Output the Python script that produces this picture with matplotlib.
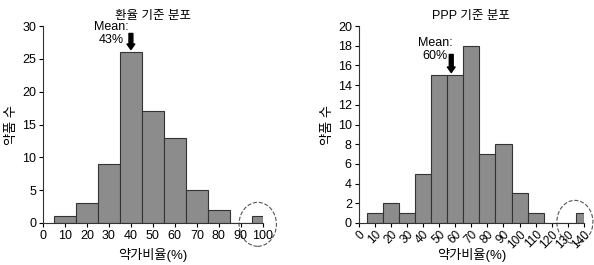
import numpy as np
import matplotlib
matplotlib.use("Agg")
import matplotlib.pyplot as plt
from matplotlib.patches import Ellipse

plt.rcParams['font.family'] = ['Liberation Sans', 'Noto Sans CJK KR']
plt.rcParams['font.size'] = 8

# exchange-rate based distribution
fx_bins = [10, 20, 30, 40, 50, 60, 70, 80, 90, 100]
fx_counts = [1, 3, 9, 26, 17, 13, 5, 2, 0, 1]
fx_mean = 43

# PPP based distribution
ppp_bins = [10, 20, 30, 40, 50, 60, 70, 80, 90, 100, 110, 120, 130, 140]
ppp_counts = [1, 2, 1, 5, 15, 15, 18, 7, 8, 3, 1, 0, 0, 1]
ppp_mean = 60

BAR_FC = '#8c8c8c'
BAR_EC = '#333333'


def draw_hist(ax, bins, counts, xmax, ymax, ystep, title):
    bins = np.array(bins, dtype=float)
    left = bins - 5
    width = np.minimum(10, xmax - left)
    ax.bar(left, counts, width=width, align='edge', color=BAR_FC,
           edgecolor=BAR_EC, linewidth=0.8)
    ax.set_xlim(0, xmax)
    ax.set_ylim(0, ymax)
    ax.set_xticks(np.arange(0, xmax + 1, 10))
    ax.set_yticks(np.arange(0, ymax + 1, ystep))
    for s in ['top', 'right']:
        ax.spines[s].set_visible(False)
    ax.spines['left'].set_color('#333333')
    ax.spines['bottom'].set_color('#333333')
    ax.tick_params(length=3, width=0.8, pad=2, labelsize=9)
    ax.set_title(title, fontsize=9, pad=5)
    ax.set_ylabel('약품 수', fontsize=9.5, labelpad=3)
    ax.set_xlabel('약가비율(%)', fontsize=9.5)
    ax.xaxis.set_label_coords(0.5, -0.125)


fig = plt.figure(figsize=(5.94, 2.65), dpi=100)
ax1 = fig.add_axes([0.0724, 0.1585, 0.370, 0.743])
ax2 = fig.add_axes([0.604, 0.1585, 0.379, 0.743])

draw_hist(ax1, fx_bins, fx_counts, 100, 30, 5, '환율 기준 분포')
draw_hist(ax2, ppp_bins, ppp_counts, 140, 20, 2, 'PPP 기준 분포')

ax2.tick_params(axis='x', pad=1, labelsize=8.5)
for lab in ax2.get_xticklabels():
    lab.set_rotation(45)
    lab.set_ha('right')
    lab.set_va('top')
    lab.set_rotation_mode('anchor')

# mean arrows
arrow = dict(arrowstyle='simple,head_width=0.7,head_length=0.5,tail_width=0.35',
             color='black')
ax1.annotate('', xy=(40, 26), xytext=(40, 29.3), arrowprops=arrow)
ax1.text(31, 30.8, 'Mean:\n43%', ha='center', va='top', fontsize=9,
         linespacing=1.1)

ax2.annotate('', xy=(57.5, 15), xytext=(57.5, 17.4), arrowprops=arrow)
ax2.text(47.5, 18.9, 'Mean:\n60%', ha='center', va='top', fontsize=9,
         linespacing=1.1)

# dashed ellipses around outliers
ax1.add_patch(Ellipse((97.7, -0.2), 17, 6.7, fill=False, ls='--',
                      ec='#555555', lw=0.8, clip_on=False))
ax2.add_patch(Ellipse((134.4, 0.1), 22.4, 4.4, fill=False, ls='--',
                      ec='#555555', lw=0.8, clip_on=False))

fig.savefig('out.png', dpi=100)
